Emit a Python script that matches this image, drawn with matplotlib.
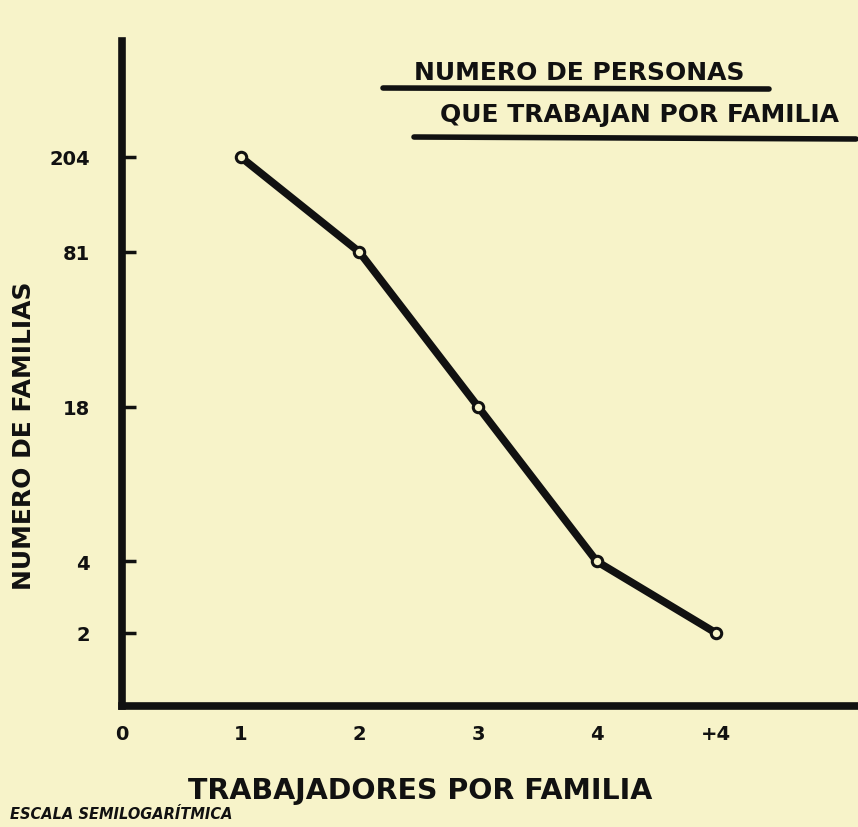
import matplotlib.pyplot as plt
from matplotlib.lines import Line2D
from matplotlib.ticker import NullLocator

BG = "#f7f3c9"
INK = "#111111"

# data (semi-log scale)
workers_pos = [1, 2, 3, 4, 5]
families = [204, 81, 18, 4, 2]
x_ticks = [0, 1, 2, 3, 4, 5]
x_labels = ["0", "1", "2", "3", "4", "+4"]
y_ticks = [2, 4, 18, 81, 204]
y_labels = ["2", "4", "18", "81", "204"]

plt.rcParams["font.family"] = ["DejaVu Sans"]
plt.rcParams["font.weight"] = "bold"

fig = plt.figure(figsize=(8.58, 8.28), dpi=100, facecolor=BG)
ax = fig.add_axes([0.142, 0.146, 0.858, 0.803])
ax.set_facecolor(BG)

ax.plot(workers_pos, families, color=INK, lw=5.5, marker="o", ms=7.5,
        mfc=BG, mec=INK, mew=2.2, solid_capstyle="round", zorder=3)

ax.set_yscale("log")
ax.set_xlim(0, 6.2)
ax.set_ylim(0.98, 628)
ax.set_yticks(y_ticks)
ax.set_yticklabels(y_labels)
ax.yaxis.set_minor_locator(NullLocator())
ax.set_xticks(x_ticks)
ax.set_xticklabels(x_labels)

for side in ["top", "right"]:
    ax.spines[side].set_visible(False)
for side in ["left", "bottom"]:
    ax.spines[side].set_linewidth(5.5)
    ax.spines[side].set_color(INK)

ax.tick_params(axis="y", direction="in", length=10, width=2.5, color=INK,
               pad=23, labelsize=14, labelcolor=INK)
ax.tick_params(axis="x", length=0, pad=13, labelsize=14, labelcolor=INK)

ax.set_xlabel("TRABAJADORES POR FAMILIA", fontsize=20.5, fontweight="bold", color=INK)
ax.xaxis.set_label_coords((420 - 122) / 736, -(777 - 707) / 666)
ax.set_ylabel("NUMERO DE FAMILIAS", fontsize=18, fontweight="bold", color=INK)
ax.yaxis.set_label_coords(-(122 - 36) / 736, (707 - 435) / 666)

# underlined title, upper right
W, H = 858, 828
fig.text(579 / W, 1 - 73 / H, "NUMERO DE PERSONAS", ha="center", va="center",
         fontsize=18, fontweight="bold", color=INK)
fig.text(640 / W, 1 - 115 / H, "QUE TRABAJAN POR FAMILIA", ha="center", va="center",
         fontsize=18, fontweight="bold", color=INK)
fig.add_artist(Line2D([383 / W, 769 / W], [1 - 89 / H, 1 - 90 / H], color=INK,
                      lw=4, solid_capstyle="round"))
fig.add_artist(Line2D([414 / W, 856 / W], [1 - 138 / H, 1 - 140 / H], color=INK,
                      lw=4, solid_capstyle="round"))

fig.text(10 / W, 1 - 815 / H, "ESCALA SEMILOGARÍTMICA", ha="left", va="center",
         fontsize=10.5, fontweight="bold", style="italic", color=INK)

fig.savefig("out.png", dpi=100, facecolor=BG)
